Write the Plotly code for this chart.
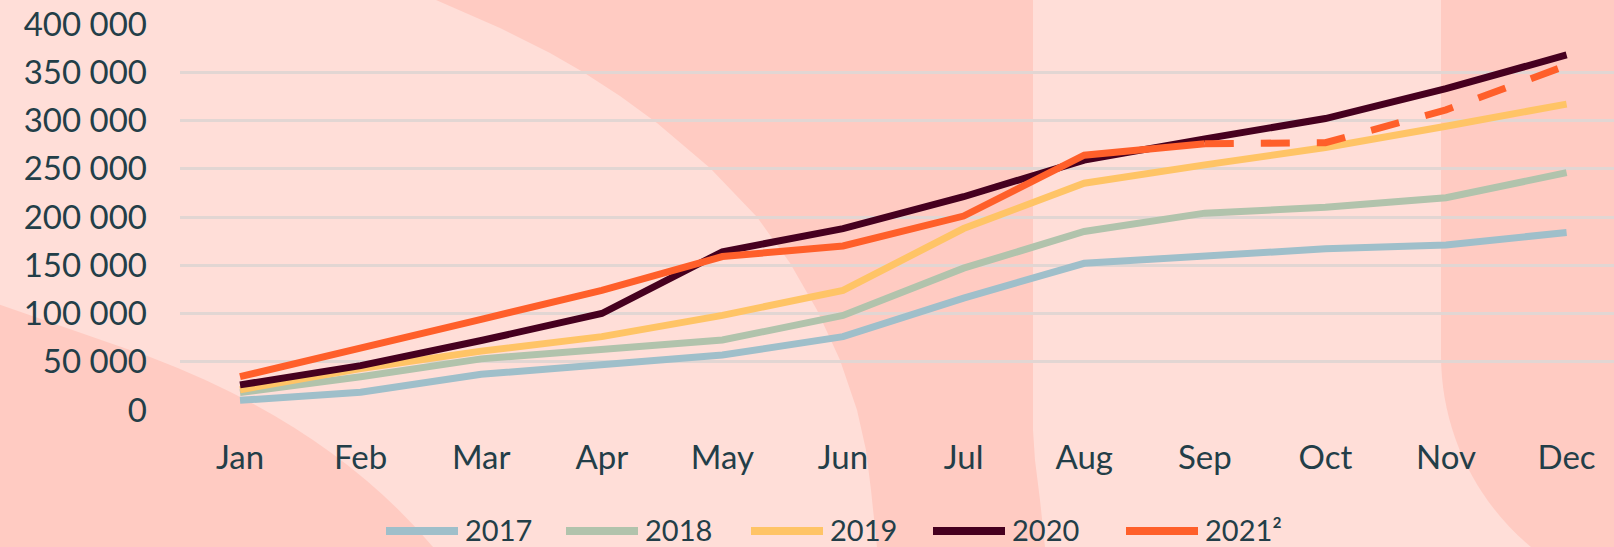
import plotly.graph_objects as go

# ---------------- data ----------------
months = ["Jan", "Feb", "Mar", "Apr", "May", "Jun", "Jul", "Aug", "Sep", "Oct", "Nov", "Dec"]
y_ticks = [0, 50000, 100000, 150000, 200000, 250000, 300000, 350000, 400000]

v2017 = [10000, 18500, 37000, 47000, 57000, 76000, 116000, 152000, 159000, 167000, 171000, 184000]
v2018 = [18000, 34500, 53000, 63500, 72500, 98000, 147000, 185000, 204000, 210000, 220000, 246000]
v2019 = [21000, 43000, 61000, 76000, 98000, 124000, 188000, 235000, 254000, 272000, 294000, 317000]
v2020 = [26000, 46000, 72000, 100000, 164000, 188000, 221000, 259000, 281000, 302000, 333000, 368000]
v2021 = [34500, 65000, 94000, 124000, 159000, 170000, 201000, 264000, 276000]
forecast_months = ["Sep", "Oct", "Nov", "Dec"]
v2021_forecast = [276000, 277000, 311000, 357000]

series_names = ["2017", "2018", "2019", "2020", "2021²"]
series_colors = ["#9FBFCA", "#B1C3AC", "#FFC466", "#46001F", "#FF5F2A"]

# ---------------- geometry ----------------
W, H = 1614, 547
PL, PR, PT, PB = 180, 1614, 24, 410
LIGHT = "#FFDED8"
DARK = "#FFCBC2"
TEXT = "#233E48"
FONT = "Lato"


def px(x):
    return (x - PL) / (PR - PL)


def py(y):
    return (PB - y) / (PB - PT)


def path(points, close=True):
    s = "M " + " L ".join(f"{px(x):.5f},{py(y):.5f}" for x, y in points)
    return s + (" Z" if close else "")


fig = go.Figure()

all_series = [v2017, v2018, v2019, v2020, v2021]
for name, vals, col in zip(series_names, all_series, series_colors):
    fig.add_trace(go.Scatter(
        x=months[:len(vals)], y=vals, name=name, mode="lines",
        line=dict(color=col, width=7), showlegend=False,
        hoverinfo="x+y+name",
    ))
    if name.startswith("2021"):
        fig.add_trace(go.Scatter(
            x=forecast_months, y=v2021_forecast, name=name + " (forecast)",
            mode="lines", line=dict(color=col, width=7, dash="29px,27px"),
            showlegend=False,
        ))

# ---------------- background shapes ----------------
shapes = []
arc = [(436, 0), (500, 28), (550, 53), (583, 72), (620, 96), (657, 123), (710, 168), (757, 217),
       (790, 263), (817, 310), (840, 360), (857, 410), (866, 450), (871, 490), (877, 547)]
mid = [(436, -5)] + arc + [(877, 560), (1046, 560), (1045, 547), (1040, 500), (1035, 460),
                           (1033, 430), (1033, -5)]
shapes.append(dict(type="path", xref="paper", yref="paper", path=path(mid),
                   fillcolor=DARK, line=dict(width=0), layer="below"))
bl = (f"M {px(-5):.5f},{py(303):.5f} L {px(150):.5f},{py(357):.5f} "
      f"Q {px(330):.5f},{py(425):.5f} {px(433):.5f},{py(547):.5f} "
      f"L {px(436):.5f},{py(560):.5f} L {px(-5):.5f},{py(560):.5f} Z")
shapes.append(dict(type="path", xref="paper", yref="paper", path=bl,
                   fillcolor=DARK, line=dict(width=0), layer="below"))
rr = (f"M {px(1441):.5f},{py(-5):.5f} L {px(1441):.5f},{py(355):.5f} "
      f"C {px(1441):.5f},{py(493):.5f} {px(1553):.5f},{py(605):.5f} {px(1691):.5f},{py(605):.5f} "
      f"L {px(1700):.5f},{py(605):.5f} L {px(1700):.5f},{py(-5):.5f} Z")
shapes.append(dict(type="path", xref="paper", yref="paper", path=rr,
                   fillcolor=DARK, line=dict(width=0), layer="below"))

# ---------------- custom legend ----------------
legend_x = [383, 563, 748, 930, 1123]
legend_y = 529
annotations = []
for name, col, x0 in zip(series_names, series_colors, legend_x):
    shapes.append(dict(type="line", xref="paper", yref="paper",
                       x0=px(x0 + 3), x1=px(x0 + 75), y0=py(legend_y + 2), y1=py(legend_y + 2),
                       line=dict(color=col, width=8), layer="above"))
    annotations.append(dict(xref="paper", yref="paper", x=px(x0 + 80), y=py(legend_y),
                            text=name, showarrow=False, xanchor="left", yanchor="middle",
                            font=dict(family=FONT, size=29, color=TEXT)))

fig.update_layout(
    width=W, height=H,
    margin=dict(l=PL, r=W - PR, t=PT, b=H - PB, pad=0),
    paper_bgcolor=LIGHT, plot_bgcolor="rgba(0,0,0,0)",
    separators=". ",
    showlegend=False,
    shapes=shapes, annotations=annotations,
    font=dict(family=FONT, color=TEXT, size=33),
    xaxis=dict(type="category", categoryorder="array", categoryarray=months,
               range=[-0.4975, 11.393], showgrid=False, zeroline=False, showline=False,
               ticks="", tickfont=dict(family=FONT, size=33, color=TEXT),
               ticklabelstandoff=25, fixedrange=True),
    yaxis=dict(range=[0, 400000], tickvals=y_ticks, tickformat=",d",
               showgrid=True, gridcolor="#E2D6D3", gridwidth=3,
               zeroline=False, showline=False, ticks="",
               tickfont=dict(family=FONT, size=33, color=TEXT),
               ticklabelstandoff=32, fixedrange=True),
)

fig.write_html(
    "out.html",
    config={"displayModeBar": False},
    post_script="document.body.style.margin='0';document.body.style.overflow='hidden';",
)
